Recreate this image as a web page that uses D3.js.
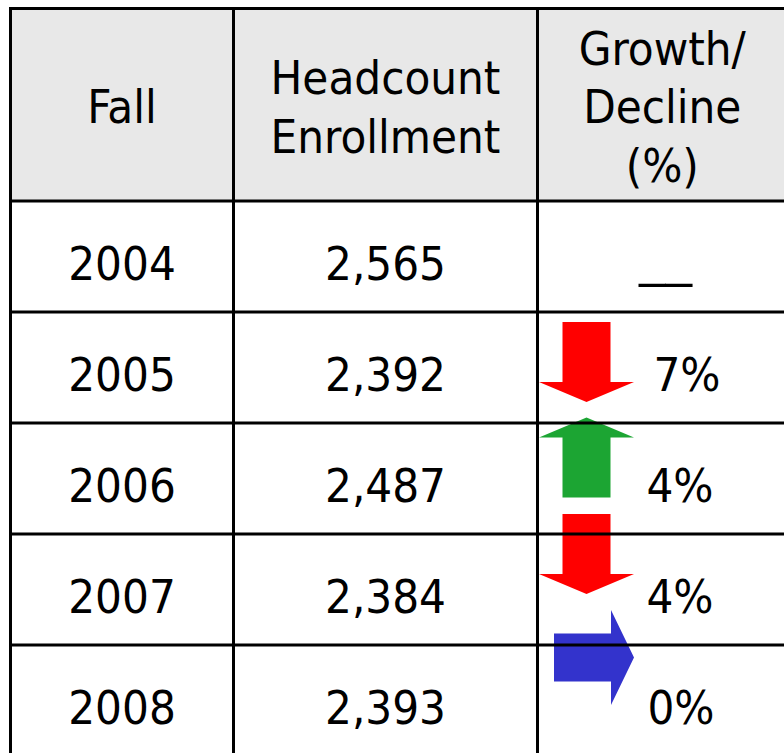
<!DOCTYPE html>
<html>
<head>
<meta charset="utf-8">
<script src="https://cdn.jsdelivr.net/npm/d3@7"></script>
<style>
  html, body { margin: 0; padding: 0; background: #ffffff; overflow: hidden; }
  svg { display: block; }
  text { font-family: "DejaVu Sans Condensed", "DejaVu Sans", sans-serif; font-stretch: condensed; fill: #000; }
</style>
</head>
<body>
<svg id="chart" width="784" height="753"></svg>
<script>
// ---- data ----
const headers = [["Fall"], ["Headcount", "Enrollment"], ["Growth/", "Decline", "(%)"]];
const years = ["2004", "2005", "2006", "2007", "2008"];
const enrollment = [2565, 2392, 2487, 2384, 2393];
const changePct = [null, -7, 4, -4, 0];

// ---- layout (not data) ----
const colEdges = [10.5, 233.5, 537.5, 787];
const tableTop = 8.5, headerBottom = 201, rowH = 111;
const pctCenterX = [null, 687, 680, 680, 681];
const arrowCenter = [null, [586.5, 362], [586.5, 457.5], [586.5, 554], [594, 657.5]];
const arrowColor = { down: "#ff0000", up: "#1ca533", flat: "#3333cc" };
const fontSize = 47, lineH = 58.5;

const svg = d3.select("#chart");

const y = d3.scaleBand().domain(years).range([headerBottom, headerBottom + rowH * years.length]).padding(0);
const colX = d3.scaleOrdinal().domain([0, 1, 2]).range([0, 1, 2].map(i => (colEdges[i] + colEdges[i + 1]) / 2));
const fmt = d3.format(",");

// header background
svg.append("rect")
  .attr("x", colEdges[0]).attr("y", tableTop)
  .attr("width", colEdges[3] - colEdges[0]).attr("height", headerBottom - tableTop)
  .attr("fill", "#e8e8e8");

// header text
const hc = (tableTop + headerBottom) / 2;
headers.forEach((lines, i) => {
  const first = hc + 18.5 - (lines.length - 1) * lineH / 2;
  lines.forEach((ln, j) => {
    svg.append("text")
      .attr("x", colX(i)).attr("y", first + j * lineH)
      .attr("text-anchor", "middle").attr("font-size", fontSize)
      .text(ln);
  });
});

// body cells
const rows = svg.selectAll("g.row").data(years).join("g").attr("class", "row");
rows.append("text")
  .attr("x", colX(0)).attr("y", d => y(d) + y.bandwidth() / 2 + 23)
  .attr("text-anchor", "middle").attr("font-size", fontSize)
  .text(d => d);
rows.append("text")
  .attr("x", colX(1)).attr("y", (d, i) => y(d) + y.bandwidth() / 2 + 23)
  .attr("text-anchor", "middle").attr("font-size", fontSize)
  .text((d, i) => fmt(enrollment[i]));

// arrows
function arrowPath(dir) {
  if (dir === "down") return "M-24,-40 L24,-40 L24,20 L47.5,20 L0,40 L-47.5,20 L-24,20 Z";
  if (dir === "up") return "M-24,40 L24,40 L24,-20 L47.5,-20 L0,-40 L-47.5,-20 L-24,-20 Z";
  return "M-40,-24 L17,-24 L17,-47.5 L40,0 L17,47.5 L17,24 L-40,24 Z";
}
changePct.forEach((v, i) => {
  if (v === null) return;
  const dir = v < 0 ? "down" : v > 0 ? "up" : "flat";
  const [cx, cy] = arrowCenter[i];
  svg.append("path")
    .attr("d", arrowPath(dir))
    .attr("transform", `translate(${cx},${cy})`)
    .attr("fill", arrowColor[dir]);
});

// percent text
changePct.forEach((v, i) => {
  const yy = y(years[i]) + y.bandwidth() / 2 + 23;
  if (v === null) {
    svg.append("text")
      .attr("x", 639).attr("y", yy - 4)
      .attr("font-size", fontSize)
      .attr("textLength", 53).attr("lengthAdjust", "spacingAndGlyphs")
      .text("__");
  } else {
    svg.append("text")
      .attr("x", pctCenterX[i]).attr("y", yy)
      .attr("text-anchor", "middle").attr("font-size", fontSize)
      .text(Math.abs(v) + "%");
  }
});

// grid lines
const hLines = [tableTop, headerBottom, ...years.map(d => y(d) + y.bandwidth())];
svg.selectAll("line.h").data(hLines).join("line").attr("class", "h")
  .attr("x1", colEdges[0] - 1.5).attr("x2", colEdges[3])
  .attr("y1", d => d).attr("y2", d => d)
  .attr("stroke", "#000").attr("stroke-width", 3);
svg.selectAll("line.v").data(colEdges).join("line").attr("class", "v")
  .attr("x1", d => d).attr("x2", d => d)
  .attr("y1", tableTop - 1.5).attr("y2", hLines[hLines.length - 1])
  .attr("stroke", "#000").attr("stroke-width", 3);
</script>
</body>
</html>
